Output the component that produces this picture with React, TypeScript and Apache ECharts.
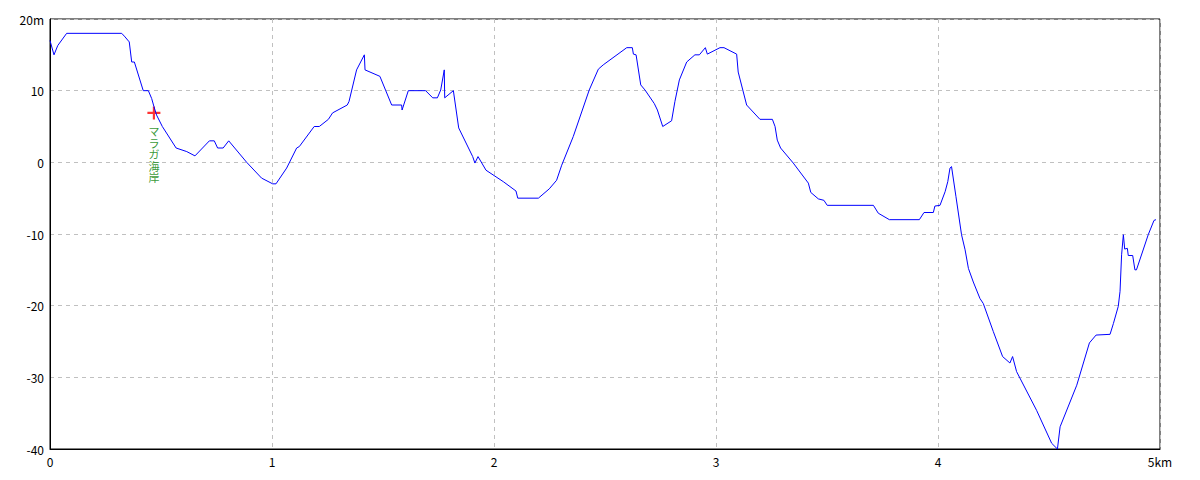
import React, { useEffect, useRef } from "react";
import * as echarts from "echarts";

const distanceKm: number[] = [
  0.0, 0.018, 0.035, 0.075, 0.323, 0.338, 0.357, 0.368, 0.38, 0.42, 0.443, 0.458, 0.468, 0.48, 0.506,
  0.568, 0.616, 0.653, 0.718, 0.74, 0.755, 0.78, 0.805, 0.886, 0.953, 1.003, 1.018, 1.066, 1.111, 1.123,
  1.19, 1.213, 1.254, 1.273, 1.339, 1.347, 1.381, 1.416, 1.419, 1.486, 1.539, 1.584, 1.586, 1.614, 1.692,
  1.724, 1.745, 1.76, 1.776, 1.778, 1.817, 1.841, 1.904, 1.914, 1.928, 1.964, 2.042, 2.099, 2.107, 2.2,
  2.249, 2.282, 2.305, 2.357, 2.429, 2.47, 2.492, 2.598, 2.623, 2.628, 2.64, 2.661, 2.68, 2.722, 2.736,
  2.76, 2.8, 2.815, 2.835, 2.868, 2.905, 2.925, 2.952, 2.961, 3.018, 3.036, 3.093, 3.1, 3.138, 3.198,
  3.254, 3.266, 3.276, 3.291, 3.348, 3.416, 3.427, 3.461, 3.486, 3.501, 3.709, 3.731, 3.781, 3.916, 3.937,
  3.979, 3.986, 4.009, 4.032, 4.044, 4.054, 4.061, 4.081, 4.106, 4.122, 4.137, 4.159, 4.189, 4.204, 4.249,
  4.291, 4.324, 4.336, 4.354, 4.444, 4.512, 4.538, 4.55, 4.625, 4.682, 4.712, 4.775, 4.79, 4.812, 4.82,
  4.827, 4.835, 4.841, 4.853, 4.857, 4.877, 4.887, 4.894, 4.947, 4.973, 4.982,
];

const elevationM: number[] = [
  17, 15, 16.3, 18, 18, 17.5, 16.8, 14, 14, 10, 10, 8.9, 7.8, 6.6, 5,
  2, 1.5, 0.9, 3, 3, 2, 2, 3, 0, -2.2, -3, -3, -0.8, 2, 2.2,
  5, 5, 6, 6.9, 8, 8.5, 12.9, 15, 12.9, 12, 8, 8, 7.3, 10, 10,
  9, 9, 10.1, 12.9, 9, 10, 4.8, 0.8, -0.1, 0.8, -1.1, -2.7, -4, -5, -5,
  -3.7, -2.5, -0.4, 3.6, 10.1, 13, 13.6, 16, 16, 15.1, 15, 10.8, 10.1, 8.2, 7.3,
  5, 5.8, 8.5, 11.5, 14, 15, 15, 16, 15.1, 16, 16, 15.1, 12.6, 8, 6,
  6, 5, 3.1, 2, -0.1, -2.9, -4.2, -5.1, -5.3, -6, -6, -7.1, -8, -8, -7,
  -7, -6.1, -6, -4.1, -2.7, -0.8, -0.6, -4.8, -10.1, -12.2, -14.8, -16.7, -19, -19.7, -23.6,
  -27.1, -28, -27.1, -29.2, -34.6, -39.2, -40, -36.9, -31.1, -25.2, -24.1, -24, -22.5, -20.1, -18,
  -12.9, -10.1, -12.1, -12, -13, -13, -15, -15, -10.1, -8.1, -8,
];

const landmarkName = "マラガ海岸";
const landmarkKm = 0.468;
const landmarkM = 6.9;

const xMin = 0;
const xMax = 5;
const xStep = 1;
const yMin = -40;
const yMax = 20;
const yStep = 10;

export default function App() {
  const ref = useRef<HTMLDivElement>(null);

  useEffect(() => {
    if (!ref.current) return;
    const chart = echarts.init(ref.current, null, { renderer: "svg" });
    const font = '"Noto Sans CJK JP", "DejaVu Sans", sans-serif';
    const profile = distanceKm.map((d, i) => [d, elevationM[i]]);
    chart.setOption({
      animation: false,
      backgroundColor: "#ffffff",
      grid: {
        left: 50,
        right: 40,
        top: 19,
        bottom: 31,
        show: true,
        borderColor: "#000000",
        borderWidth: 1,
        backgroundColor: "transparent",
      },
      xAxis: {
        type: "value",
        min: xMin,
        max: xMax,
        interval: xStep,
        axisLine: { show: true, onZero: false, lineStyle: { color: "#000000", width: 1 } },
        axisTick: { show: false },
        axisLabel: {
          color: "#000000",
          fontFamily: font,
          fontSize: 12,
          margin: 6,
          formatter: (v: number) => (v === xMax ? v + "km" : String(v)),
        },
        splitLine: { show: true, lineStyle: { color: "#c0c0c0", type: [4, 4], width: 1 } },
      },
      yAxis: {
        type: "value",
        min: yMin,
        max: yMax,
        interval: yStep,
        axisLine: { show: true, onZero: false, lineStyle: { color: "#000000", width: 1 } },
        axisTick: { show: false },
        axisLabel: {
          color: "#000000",
          fontFamily: font,
          fontSize: 12,
          margin: 6,
          formatter: (v: number) => (v === yMax ? v + "m" : String(v)),
        },
        splitLine: { show: true, lineStyle: { color: "#c0c0c0", type: [4, 4], width: 1 } },
      },
      series: [
        {
          type: "line",
          data: profile,
          showSymbol: false,
          symbol: "none",
          lineStyle: { color: "#0000ff", width: 1 },
          silent: true,
        },
        {
          type: "scatter",
          data: [[landmarkKm, landmarkM]],
          symbol: "path://M5,0h2v5h5v2h-5v5h-2v-5h-5v-2h5z",
          symbolSize: 13,
          itemStyle: { color: "#ff0000" },
          label: {
            show: true,
            position: "bottom",
            distance: 6,
            formatter: landmarkName.split("").join("\n"),
            color: "#008000",
            fontFamily: font,
            fontSize: 11,
            lineHeight: 11.5,
          },
          silent: true,
        },
      ],
    });
    return () => chart.dispose();
  }, []);

  return (
    <div
      ref={ref}
      style={{ position: "fixed", left: 0, top: 0, width: 1200, height: 480, background: "#fff" }}
    />
  );
}
